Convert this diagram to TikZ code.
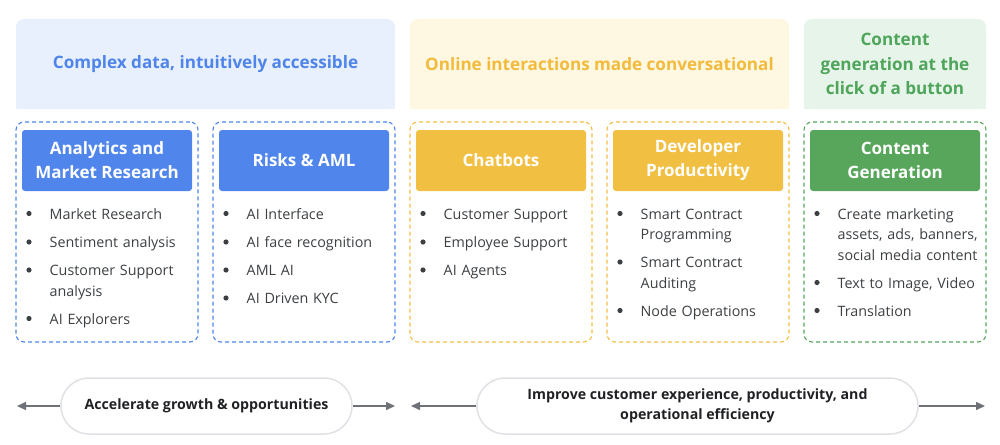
\documentclass[tikz,border=0pt]{standalone}
\usepackage{fontspec}
\setmainfont{Open Sans}
\usepackage{xcolor}
\usetikzlibrary{backgrounds,arrows.meta}
\definecolor{bluehd}{HTML}{E8F0FD}
\definecolor{bluetx}{HTML}{4F85EA}
\definecolor{bluebox}{HTML}{5085EC}
\definecolor{yelhd}{HTML}{FEF7E1}
\definecolor{yeltx}{HTML}{F2BB3C}
\definecolor{yelbox}{HTML}{F1BF42}
\definecolor{grnhd}{HTML}{E7F4E9}
\definecolor{grntx}{HTML}{4EA55B}
\definecolor{grnbox}{HTML}{58A65C}
\definecolor{itemtx}{HTML}{3C4043}
\definecolor{pilltx}{HTML}{202124}
\definecolor{pillln}{HTML}{DFE1E5}
\definecolor{arrowln}{HTML}{6E7177}
\def\itm#1#2#3{\node[item] (#1) at (#2) {#3};
  \fill[itemtx] (#1.base west) ++(-20.5,-5.5) circle (2.6pt)}
\tikzstyle{hdr}=[rounded corners=8pt,minimum height=90pt,inner sep=0pt,align=center,font=\fontsize{17.1}{24.5}\selectfont\bfseries]
\tikzstyle{col}=[draw,dash pattern=on 4pt off 3pt,line width=1.1pt,rounded corners=8pt,minimum width=182pt,minimum height=220pt,inner sep=0pt]
\tikzstyle{cat}=[rounded corners=3pt,minimum width=170pt,minimum height=61pt,inner sep=0pt,align=center,text=white,font=\fontsize{17}{24}\selectfont\bfseries]
\tikzstyle{item}=[anchor=base west,text width=150pt,align=left,inner sep=0pt,text=itemtx,font=\fontsize{14.3}{20.5}\selectfont]
\tikzstyle{pill}=[draw=pillln,line width=1.5pt,rounded corners=28pt,minimum height=56pt,inner sep=0pt,align=center,text=pilltx,font=\fontsize{14.2}{20}\selectfont\bfseries]
\tikzstyle{flow}=[draw=arrowln,line width=1.5pt,-{Triangle[length=9pt,width=8pt]}]

\begin{document}
\begin{tikzpicture}[x=1pt,y=-1pt]
    \useasboundingbox (0,0) rectangle (1000,444);
    % headers
    \node[hdr,fill=bluehd,text=bluetx,minimum width=379pt] (hdata) at (205.5,64) {Complex data, intuitively accessible};
    \node[hdr,fill=yelhd,text=yeltx,minimum width=379pt] (hconv) at (599.5,64) {Online interactions made conversational};
    \node[hdr,fill=grnhd,text=grntx,minimum width=182pt] (hgen) at (895,64) {Content\\generation at the\\click of a button};
    \begin{scope}[on background layer]
      \foreach \h/\c in {hdata/bluehd,hconv/yelhd,hgen/grnhd}
        \fill[\c] (\h.west) rectangle (\h.south east);
    \end{scope}
    % columns
    \node[col,draw=bluebox] (anacol) at (107,232) {};
    \node[col,draw=bluebox] (riskcol) at (304,232) {};
    \node[col,draw=yelbox] (chatcol) at (501,232) {};
    \node[col,draw=yelbox] (devcol) at (698,232) {};
    \node[col,draw=grnbox] (gencol) at (895,232) {};
    \node[cat,fill=bluebox] (analytics) at (107,160.5) {Analytics and\\Market Research};
    \node[cat,fill=bluebox] (risks) at (304,160.5) {Risks \& AML};
    \node[cat,fill=yelbox] (chatbots) at (501,160.5) {Chatbots};
    \node[cat,fill=yelbox] (devprod) at (698,160.5) {Developer\\Productivity};
    \node[cat,fill=grnbox] (contgen) at (895,160.5) {Content\\Generation};
    % items
    \itm{a1}{49.5,219}{Market Research};
    \itm{a2}{49.5,247.5}{Sentiment analysis};
    \itm{a3}{49.5,275.5}{Customer Support\\analysis};
    \itm{a4}{49.5,324}{AI Explorers};
    \itm{r1}{246.5,219}{AI Interface};
    \itm{r2}{246.5,247.5}{AI face recognition};
    \itm{r3}{246.5,275.5}{AML AI};
    \itm{r4}{246.5,303.5}{AI Driven KYC};
    \itm{c1}{443.5,219}{Customer Support};
    \itm{c2}{443.5,247.5}{Employee Support};
    \itm{c3}{443.5,275.5}{AI Agents};
    \itm{d1}{640.5,219}{Smart Contract\\Programming};
    \itm{d2}{640.5,267.5}{Smart Contract\\Auditing};
    \itm{d3}{640.5,316}{Node Operations};
    \itm{g1}{837.5,219}{Create marketing\\assets, ads, banners,\\social media content};
    \itm{g2}{837.5,288}{Text to Image, Video};
    \itm{g3}{837.5,316}{Translation};
    % outcomes
    \node[pill,minimum width=291pt] (grow) at (206.5,406) {Accelerate growth \& opportunities};
    \node[pill,minimum width=441pt] (improve) at (697.5,406) {Improve customer experience, productivity, and\\operational efficiency};
    \coordinate (gl) at (17,406);
    \coordinate (gr) at (395,406);
    \coordinate (il) at (411,406);
    \coordinate (ir) at (985,406);
    \draw[flow] (grow) -- (gl);
    \draw[flow] (grow) -- (gr);
    \draw[flow] (improve) -- (il);
    \draw[flow] (improve) -- (ir);
  \end{tikzpicture}
\end{document}
